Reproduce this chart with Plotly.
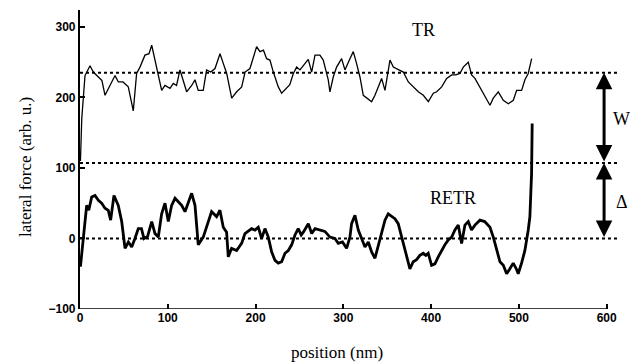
import plotly.graph_objects as go

# ---------------- data ----------------
tr_x = [0.5, 2, 5.7, 8.5, 11.4, 15.2, 20.9, 25, 28.5, 34.2, 39.9, 43.7, 49, 55, 60.7, 64.5, 68.3, 74,
        78.6, 81.7, 85.4, 89.2, 93, 96.8, 102.5, 106.3, 110, 113.9, 117.7, 121.5, 127.2, 131, 134.7,
        140.4, 144.2, 149, 153.8, 159.5, 163.3, 167.1, 172.8, 178.5, 184.2, 188, 193.6, 197.4, 201.2,
        205, 209, 212.6, 216.4, 220.2, 225.9, 229.7, 235.4, 239, 243, 246.8, 250.6, 254.4, 260, 263.9,
        267.7, 273.3, 277.1, 282.8, 284.7, 288.5, 292.3, 298, 301.8, 307.5, 311.3, 315.1, 318.9, 322.7,
        326.5, 332.2, 336, 339.8, 343.6, 347.4, 353.1, 356.9, 362.6, 368.3, 374, 379.7, 385.4, 391.1,
        396.8, 402.5, 406.3, 412, 417.7, 423.4, 428, 432.8, 436.6, 442.3, 446.1, 449.9, 455.6, 461.3,
        467, 470.8, 476.5, 482.2, 487.9, 493.6, 497.4, 503.1, 506.8, 510.6, 514.5]
tr_y = [110, 170, 231, 238, 245, 236, 229, 224, 203, 217, 231, 222, 222, 215, 181, 234, 243, 260,
        262, 274, 253, 236, 210, 217, 213, 220, 217, 239, 222, 208, 217, 225, 210,
        210, 239, 236, 241, 262, 248, 234, 199, 208, 215, 236, 241, 255, 272,
        265, 267, 255, 253, 236, 215, 206, 213, 218, 234, 243, 239, 245, 254, 236,
        260, 260, 253, 225, 208, 229, 243, 255, 239, 255, 265, 248, 229, 203,
        199, 194, 203, 215, 227, 210, 253, 243, 239, 236, 222, 215, 208, 203,
        194, 206, 208, 215, 227, 232, 232, 234, 243, 250, 232, 227, 215, 203,
        189, 199, 208, 196, 191, 196, 210, 210, 225, 234, 255]

retr_x = [0.5, 3.8, 7.6, 10, 13.3, 17.1, 20.9, 24.7, 28.5, 32.2, 34.9, 38.7, 43.6, 47.5, 51.3, 55.1,
          58.9, 62.6, 66.4, 70, 72.9, 77, 81.7, 85.4, 89.2, 93, 96.8, 100.6, 104.4, 108.2, 112, 115.8,
          119.6, 123.4, 127.2, 131, 134.7, 140.4, 146.1, 149.9, 155.6, 159.4, 163.2, 167, 168.9, 172.7,
          178.4, 184.1, 187.9, 191.7, 195.5, 199.3, 203.1, 206.9, 210.7, 214.5, 218.3, 222.1, 225.9,
          229.7, 233.5, 237.3, 241.1, 244.9, 248.6, 252, 254.4, 260.1, 263.9, 267.7, 273.3, 279, 284.7,
          290.4, 294.2, 299, 303.7, 307.5, 309.4, 313.2, 317, 320.8, 324.6, 328.4, 332.2, 336, 339.8,
          343.6, 347.4, 351.1, 354.9, 358.7, 362.5, 366.3, 370.1, 375.8, 379.6, 383.4, 387.2, 391, 394,
          396.7, 400.5, 404.3, 408.1, 411.9, 415.7, 419.5, 423.4, 427.1, 430.9, 434.7, 438.5, 442.3, 446,
          449.9, 455.6, 461, 467, 470.8, 474.6, 478.4, 482.2, 486, 489.7, 493.5, 497, 499.2, 503, 506.8,
          510.6, 512.5, 514.4, 515.1]
retr_y = [-40, 0, 47, 40, 59, 61, 54, 50, 43, 40, 26, 61, 47, 24, -14, -5,
          -12, 0, 14, 14, 0, 3, 24, 7, 2, 35, 50, 24, 47, 57, 52, 47,
          38, 52, 64, 47, -9, 2, 24, 38, 31, 40, 16, 9, -26, -14,
          -17, -7, 7, 10, 14, 12, 16, 0, 14, 2, -19, -31, -35,
          -33, -21, -17, -9, 5, 14, 5, 9, 21, 7, 14, 12, 10, 2,
          0, -7, -5, -14, 2, 21, 33, 12, 0, -12, -5, -19, -28, -9,
          7, 26, 35, 31, 28, 21, 2, -17, -43, -33, -30, -24, -21, -24,
          -21, -38, -36, -26, -17, -9, -2, 2, 12, 19, -7, 19, 24, 12,
          19, 26, 24, 16, 2, -17, -33, -38, -50, -43, -35, -43, -50, -35, -17,
          12, 31, 92, 163]

ref_levels = [0, 107, 235]          # dotted reference lines
x_ticks = [0, 100, 200, 300, 400, 500, 600]
y_ticks = [-100, 0, 100, 200, 300]
arrow_x = 597
w_span = [235, 107]
delta_span = [107, 0]

serif = "Liberation Serif"
sans = "Liberation Sans"

fig = go.Figure()

fig.add_trace(go.Scatter(x=tr_x, y=tr_y, mode="lines",
                         line=dict(color="black", width=1.3), showlegend=False))
fig.add_trace(go.Scatter(x=retr_x, y=retr_y, mode="lines",
                         line=dict(color="black", width=2.8), showlegend=False))

shapes = []
for lv in ref_levels:
    shapes.append(dict(type="line", xref="x", yref="y", x0=0, x1=613, y0=lv, y1=lv,
                       line=dict(color="black", width=2, dash="dot"), layer="below"))
# x axis line ending at 600
shapes.append(dict(type="line", xref="x", yref="y", x0=0, x1=600, y0=-100, y1=-100,
                   line=dict(color="black", width=1.6)))

annotations = []
for span in (w_span, delta_span):
    annotations.append(dict(x=arrow_x, y=span[0], ax=arrow_x, ay=span[1], xref="x", yref="y",
                            axref="x", ayref="y", text="", showarrow=True,
                            arrowside="end+start", arrowhead=2, startarrowhead=2,
                            arrowsize=1.1, startarrowsize=1.1, arrowwidth=3,
                            arrowcolor="black", standoff=0, startstandoff=0))

annotations += [
    dict(x=1.005, y=169, xref="paper", yref="y", text="W", showarrow=False,
         font=dict(family=serif, size=18, color="black"), xanchor="center", yanchor="middle"),
    dict(x=1.005, y=52, xref="paper", yref="y", text="Δ", showarrow=False,
         font=dict(family=serif, size=18, color="black"), xanchor="center", yanchor="middle"),
    dict(x=391, y=295, xref="x", yref="y", text="TR", showarrow=False,
         font=dict(family=serif, size=18, color="black"), xanchor="center", yanchor="middle"),
    dict(x=425, y=58, xref="x", yref="y", text="RETR", showarrow=False,
         font=dict(family=serif, size=18, color="black"), xanchor="center", yanchor="middle"),
    dict(x=-0.1, y=0.475, xref="paper", yref="paper", text="lateral force (arb. u.)",
         showarrow=False, textangle=-90,
         font=dict(family=serif, size=17, color="black"), xanchor="center", yanchor="middle"),
    dict(x=0.477, y=-0.145, xref="paper", yref="paper", text="position (nm)",
         showarrow=False,
         font=dict(family=serif, size=17, color="black"), xanchor="center", yanchor="middle"),
]

# the page body has an 8 px margin, so the figure is 8 px smaller and margins shifted
fig.update_layout(
    width=632, height=356,
    margin=dict(l=72, r=21, t=2, b=55),
    paper_bgcolor="white", plot_bgcolor="white",
    shapes=shapes, annotations=annotations,
    xaxis=dict(range=[0, 614], tickvals=x_ticks, ticks="inside", ticklen=5, tickwidth=1.5,
               tickcolor="black", showline=False, showgrid=False, zeroline=False,
               tickfont=dict(family=sans, size=12, color="black", weight="bold")),
    yaxis=dict(range=[-100, 324], tickvals=y_ticks, ticks="inside", ticklen=5, tickwidth=1.5,
               tickcolor="black", showline=True, linecolor="black", linewidth=2.2,
               showgrid=False, zeroline=False,
               tickfont=dict(family=sans, size=12, color="black", weight="bold")),
)

fig.write_html("out.html")
